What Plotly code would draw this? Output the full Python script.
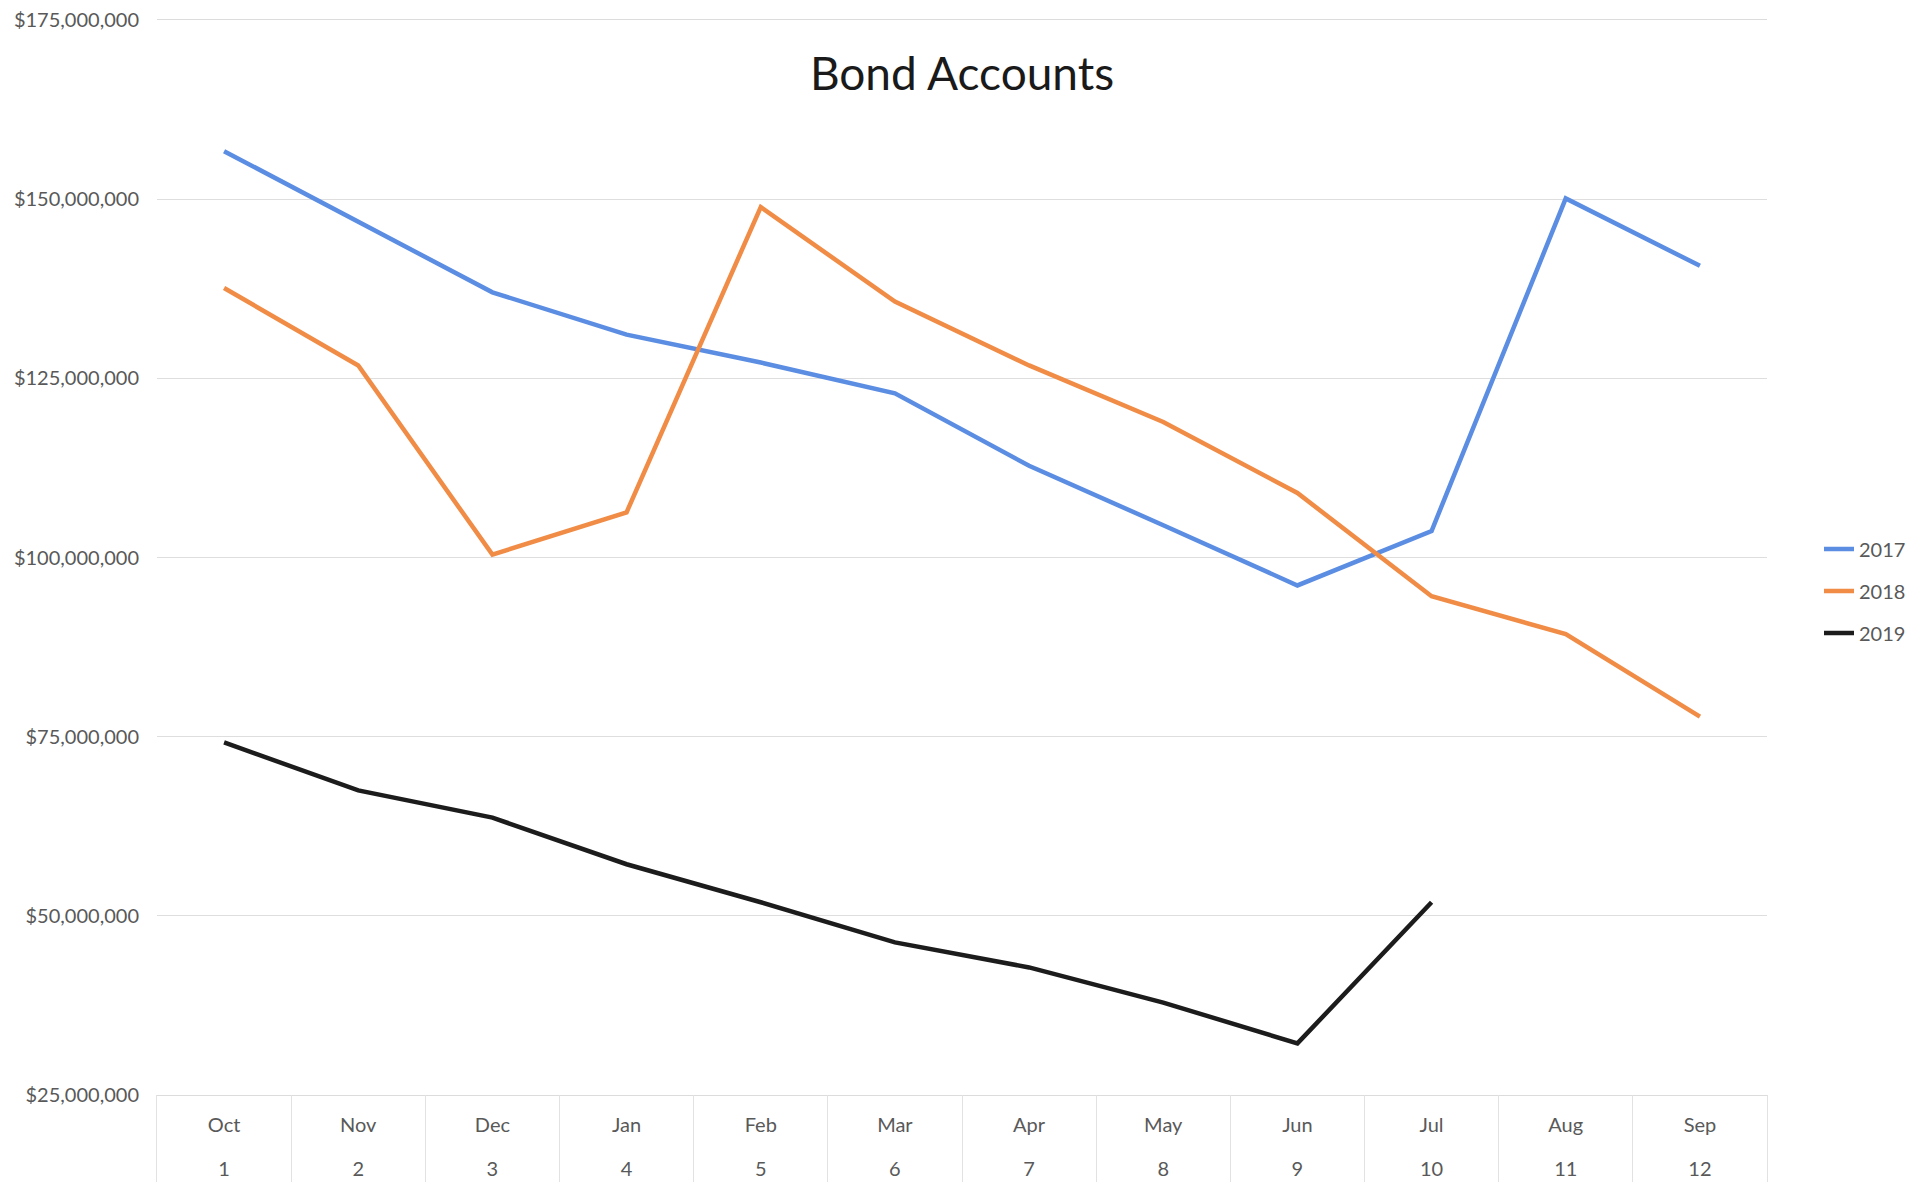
import plotly.graph_objects as go

months = ["Oct", "Nov", "Dec", "Jan", "Feb", "Mar", "Apr", "May", "Jun", "Jul", "Aug", "Sep"]
month_nums = ["1", "2", "3", "4", "5", "6", "7", "8", "9", "10", "11", "12"]

v2017 = [156.7, 146.9, 137.0, 131.1, 127.2, 122.9, 112.8, 104.5, 96.1, 103.7, 150.1, 140.7]
v2018 = [137.6, 126.8, 100.4, 106.3, 148.9, 135.7, 126.8, 118.9, 109.0, 94.6, 89.3, 77.8]
v2019 = [74.2, 67.5, 63.7, 57.2, 51.9, 46.3, 42.8, 37.9, 32.2, 51.9]

y_ticks = [25e6, 50e6, 75e6, 100e6, 125e6, 150e6, 175e6]
y_ticktext = ["$25,000,000", "$50,000,000", "$75,000,000", "$100,000,000",
              "$125,000,000", "$150,000,000", "$175,000,000"]

series = [
    ("2017", v2017, "#5b8de3"),
    ("2018", v2018, "#f08c45"),
    ("2019", v2019, "#1c1c1c"),
]

FONT = "Lato"
LABEL_COLOR = "#595959"

# layout geometry (figure pixels)
W, H = 1928, 1195
L, R, T, B = 149, 169, 12, 21
STRIP = 87  # height of the category label box under the plot
plot_h = H - T - B
split = STRIP / plot_h

fig = go.Figure()
for name, vals, color in series:
    n = len(vals)
    fig.add_trace(go.Scatter(
        x=months[:n],
        y=[v * 1e6 for v in vals],
        mode="lines",
        name=name,
        legendgroup=name,
        line=dict(color=color, width=4.5),
        xaxis="x", yaxis="y",
    ))

# category label box: month names and month numbers
fig.add_trace(go.Scatter(
    x=months, y=[STRIP - 32] * len(months), mode="text", text=months,
    textfont=dict(family=FONT, size=20, color=LABEL_COLOR),
    showlegend=False, hoverinfo="skip", xaxis="x2", yaxis="y2",
))
fig.add_trace(go.Scatter(
    x=months, y=[STRIP - 76] * len(months), mode="text", text=month_nums,
    textfont=dict(family=FONT, size=20, color=LABEL_COLOR),
    showlegend=False, hoverinfo="skip", xaxis="x2", yaxis="y2",
))

fig.update_layout(
    width=W, height=H,
    margin=dict(l=L, r=R, t=T, b=B, autoexpand=False),
    paper_bgcolor="white", plot_bgcolor="white",
    font=dict(family=FONT, size=20, color=LABEL_COLOR),
    title=dict(text="Bond Accounts", x=0.5, xref="paper", y=1 - 66 / H, yref="container",
               xanchor="center", yanchor="middle",
               font=dict(family=FONT, size=46, color="#1a1a1a")),
    showlegend=True,
    legend=dict(xref="container", yref="container", x=1811 / W, y=1 - 583 / H,
                xanchor="left", yanchor="middle", tracegroupgap=13,
                traceorder="grouped",
                font=dict(family=FONT, size=20, color=LABEL_COLOR),
                bgcolor="rgba(0,0,0,0)"),
    xaxis=dict(type="category", categoryarray=months, categoryorder="array",
               range=[-0.5, len(months) - 0.5], automargin=False, anchor="y",
               showgrid=False, showline=True, mirror=True, linecolor="#dcdcdc", linewidth=1,
               ticks="", showticklabels=False, zeroline=False),
    yaxis=dict(range=[25e6, 175e6], tickvals=y_ticks, ticktext=y_ticktext, automargin=False,
               domain=[split, 1], anchor="x", ticklabeloverflow="allow",
               showgrid=True, gridcolor="#dedede", gridwidth=1, zeroline=False,
               showline=False, ticks="", ticklabelstandoff=17,
               tickfont=dict(family=FONT, size=20, color=LABEL_COLOR)),
    xaxis2=dict(type="category", categoryarray=months, categoryorder="array",
                range=[-0.5, len(months) - 0.5], automargin=False, anchor="y2",
                showgrid=True, gridcolor="#e2e2e2", gridwidth=1, tickson="boundaries",
                showline=False, ticks="", showticklabels=False, zeroline=False),
    yaxis2=dict(range=[0, STRIP], domain=[0, split], anchor="x2", automargin=False,
                showgrid=False, zeroline=False, showticklabels=False, ticks="",
                showline=True, mirror=True, linecolor="#e2e2e2", linewidth=1),
)

fig.write_html("out.html")
